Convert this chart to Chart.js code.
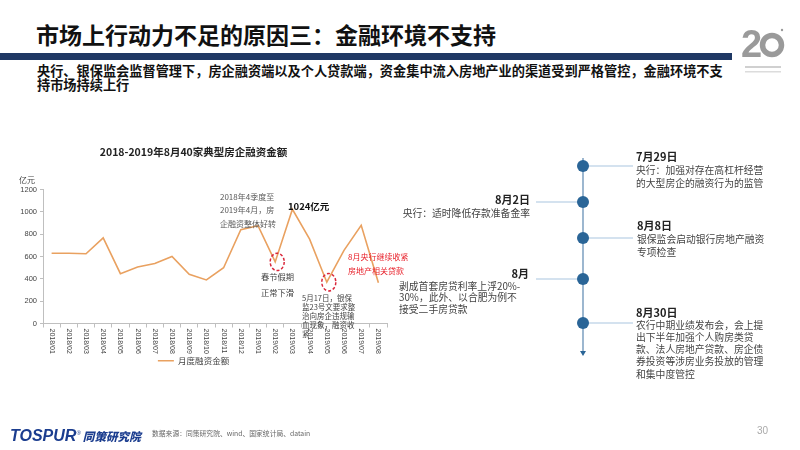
<!DOCTYPE html>
<html lang="zh">
<head>
<meta charset="UTF-8">
<title>市场上行动力不足的原因三：金融环境不支持</title>
<script src="https://cdn.jsdelivr.net/npm/chart.js@4.4.0/dist/chart.umd.min.js"></script>
<style>
  body { margin: 0; background: #fff; font-family: "Noto Sans CJK SC", "Liberation Sans", sans-serif; }
  .slide { position: relative; width: 800px; height: 450px; overflow: hidden; background: #fff; }
  .abs { position: absolute; white-space: nowrap; }
  .title { left: 36px; top: 19px; font-size: 23px; font-weight: bold; color: #111; line-height: 30px; }
  .rule { left: 0; top: 53px; width: 732px; height: 7px; background: #1f3864; }
  .sub { left: 37px; top: 64px; font-size: 13.2px; font-weight: bold; color: #111; line-height: 14px; }
  .ev { font-size: 9.8px; color: #444; line-height: 13px; }
  .ev b { font-size: 11px; color: #222; }
  .chartbox { left: 0; top: 140px; width: 430px; height: 237px; }
  .brand { left: 10px; top: 423px; font-family: "Liberation Sans", sans-serif; font-size: 16px; font-weight: 900; font-style: italic; color: #1b3d8f; line-height: 20px; }
  .brand sup { font-size: 6px; font-weight: normal; }
  .brand span { font-family: "Noto Sans CJK SC"; font-size: 11.6px; margin-left: 2px; }
  .src { left: 152px; top: 428px; font-size: 6.8px; color: #666; line-height: 10px; }
  .page { left: 757px; top: 424px; font-size: 10px; color: #aaa; line-height: 14px; font-family: "Liberation Sans", sans-serif; }
</style>
</head>
<body>
<div class="slide">
  <div class="abs title">市场上行动力不足的原因三：金融环境不支持</div>
  <div class="abs rule"></div>
  <div class="abs sub">央行、银保监会监督管理下，房企融资端以及个人贷款端，资金集中流入房地产业的渠道受到严格管控，金融环境不支<br>持市场持续上行</div>

  <div class="abs chartbox"><canvas id="financeChart" width="430" height="237"></canvas></div>

  <!-- timeline on the right -->
  <svg class="abs" style="left:0;top:0" width="800" height="450">
    <g fill="#9a9a9a">
      <text x="741" y="57" font-family="Liberation Sans" font-weight="bold" font-size="38">2</text>
      <circle cx="772" cy="45" r="9.5" fill="none" stroke="#9a9a9a" stroke-width="5.5"/>
      <circle cx="782" cy="30" r="1.2"/>
      <rect x="745" y="66" width="36" height="2" fill="#d0d0d0"/>
      <rect x="745" y="71" width="36" height="1.5" fill="#dcdcdc"/>
    </g>
    <line x1="583" y1="158" x2="583" y2="352" stroke="#5b87b0" stroke-width="1.2"/>
    <polygon points="580,351 586,351 583,356" fill="#2a6597"/>
    <g stroke="#a9c6df" stroke-width="1.2">
      <line x1="633" y1="166" x2="583" y2="166"/>
      <line x1="536" y1="202" x2="583" y2="202"/>
      <line x1="633" y1="238" x2="583" y2="238"/>
      <line x1="536" y1="279" x2="583" y2="279"/>
      <line x1="633" y1="323" x2="583" y2="323"/>
    </g>
    <g fill="#2a6597">
      <circle cx="583" cy="166" r="6"/>
      <circle cx="583" cy="202" r="6"/>
      <circle cx="583" cy="238" r="6"/>
      <circle cx="583" cy="279" r="6"/>
      <circle cx="583" cy="323" r="6"/>
    </g>
  </svg>

  <div class="abs ev" style="left:636px;top:149.5px"><b>7月29日</b><br>央行：加强对存在高杠杆经营<br>的大型房企的融资行为的监管</div>
  <div class="abs ev" style="right:270px;top:192.5px;text-align:right"><b>8月2日</b><br>央行：适时降低存款准备金率</div>
  <div class="abs ev" style="left:637px;top:218.5px"><b>8月8日</b><br>银保监会启动银行房地产融资<br>专项检查</div>
  <div class="abs ev" style="right:271px;top:266.5px;text-align:right"><b>8月</b></div>
  <div class="abs ev" style="left:399px;top:280.5px;line-height:11.5px">剥成首套房贷利率上浮20%-<br>30%，此外、以合肥为例不<br>接受二手房贷款</div>
  <div class="abs ev" style="left:636px;top:305.5px;line-height:12.2px"><b>8月30日</b><br>农行中期业绩发布会，会上提<br>出下半年加强个人购房类贷<br>款、法人房地产贷款、房企债<br>券投资等涉房业务投放的管理<br>和集中度管控</div>

  <div class="abs brand">TOSPUR<sup>®</sup><span>同策研究院</span></div>
  <div class="abs src">数据来源：同策研究院、wind、国家统计局、datain</div>
  <div class="abs page">30</div>
</div>

<script>
    // monthly financing of 40 typical developers, 100 million yuan
    const months = ['2018/01', '2018/02', '2018/03', '2018/04', '2018/05', '2018/06', '2018/07',
        '2018/08', '2018/09', '2018/10', '2018/11', '2018/12', '2019/01', '2019/02', '2019/03',
        '2019/04', '2019/05', '2019/06', '2019/07', '2019/08'];
    const amounts = [630, 630, 625, 768, 447, 507, 537, 600, 441, 390, 500, 840, 876, 552, 1024,
        756, 370, 655, 880, 366];
    const yTicks = [0, 200, 400, 600, 800, 1000, 1200];
    const seriesName = '月度融资金额';
    const chartTitle = '2018-2019年8月40家典型房企融资金额';
    const unitLabel = '亿元';

    // callouts: at = [category index, value] of first line's left edge
    const notes = [
        { at: [9.79, 1137], lines: ['2018年4季度至', '2019年4月，房', '企融资整体好转'], lh: 13.5, font: '8px "Noto Sans CJK SC"', color: '#595959' },
        { at: [13.74, 1050], lines: ['1024亿元'], lh: 12, font: 'bold 9.5px "Noto Sans CJK SC"', color: '#111' },
        { at: [12.17, 415], lines: ['春节假期', '正常下滑'], lh: 16, font: '8.3px "Noto Sans CJK SC"', color: '#444' },
        { at: [14.56, 226], lines: ['5月17日，银保', '监23号文要求整', '治向房企违规输', '血现象，融资收', '紧'], lh: 9, font: '7.5px "Noto Sans CJK SC"', color: '#444' },
        { at: [17.23, 596], lines: ['8月央行继续收紧', '房地产相关贷款'], lh: 14, font: '8px "Noto Sans CJK SC"', color: '#e8202a' }
    ];
    // dashed red circles around the dips (category index)
    const dips = [13, 16];

    const lineColor = '#e9a160';
    const axisColor = '#bfbfbf';

    const notesPlugin = {
        id: 'slideNotes',
        afterDraw(chart) {
            const { ctx, chartArea, scales: { x, y } } = chart;
            ctx.save();
            ctx.fillStyle = '#444';
            ctx.textBaseline = 'middle';

            ctx.font = '8px "Noto Sans CJK SC"';
            ctx.textAlign = 'right';
            ctx.fillText(unitLabel, chartArea.left - 8, y.top - 10);

            // month labels, turned clockwise
            ctx.font = '7px "Liberation Sans"';
            ctx.textAlign = 'left';
            months.forEach((m, i) => {
                ctx.save();
                ctx.translate(x.getPixelForValue(i), chartArea.bottom + 5);
                ctx.rotate(Math.PI / 2);
                ctx.fillText(m, 0, 0);
                ctx.restore();
            });

            ctx.strokeStyle = '#d9263a';
            ctx.lineWidth = 1.5;
            ctx.setLineDash([3, 2]);
            dips.forEach(i => {
                const px = x.getPixelForValue(i) + 2;
                const py = y.getPixelForValue(amounts[i]);
                ctx.beginPath();
                ctx.ellipse(px, py, 7, 8.7, 0, 0, Math.PI * 2);
                ctx.stroke();
            });
            ctx.setLineDash([]);

            notes.forEach(n => {
                const px = x.getPixelForValue(n.at[0]);
                const py = y.getPixelForValue(n.at[1]);
                ctx.font = n.font;
                ctx.fillStyle = n.color;
                n.lines.forEach((t, k) => ctx.fillText(t, px, py + k * n.lh));
            });
            ctx.restore();
        }
    };

    const ctx = document.getElementById('financeChart').getContext('2d');
    new Chart(ctx, {
        type: 'line',
        data: {
            labels: months,
            datasets: [{
                label: seriesName,
                data: amounts,
                borderColor: lineColor,
                backgroundColor: lineColor,
                borderWidth: 1.6,
                pointRadius: 0,
                tension: 0
            }]
        },
        options: {
            responsive: false,
            animation: false,
            layout: { padding: { left: 0, right: 43, top: 0, bottom: 2 } },
            plugins: {
                title: {
                    display: true,
                    text: chartTitle,
                    color: '#222',
                    font: { size: 10.5, weight: 'bold', family: '"Noto Sans CJK SC"' },
                    padding: { top: 6, bottom: 31 }
                },
                legend: {
                    position: 'bottom',
                    labels: {
                        usePointStyle: true,
                        pointStyle: 'line',
                        pointStyleWidth: 16,
                        padding: 4,
                        color: '#444',
                        font: { size: 8.5, family: '"Noto Sans CJK SC"' }
                    }
                },
                tooltip: { enabled: false }
            },
            scales: {
                x: {
                    offset: true,
                    grid: { offset: true, drawOnChartArea: false, color: axisColor, tickLength: 4 },
                    border: { color: axisColor },
                    ticks: { display: false },
                    afterFit(s) { s.height = 29; }
                },
                y: {
                    min: 0,
                    max: 1200,
                    afterBuildTicks(s) { s.ticks = yTicks.map(v => ({ value: v })); },
                    grid: { drawOnChartArea: false, color: axisColor, tickLength: 3 },
                    border: { color: axisColor },
                    ticks: {
                        color: '#444',
                        padding: 3,
                        font: { size: 7.5, family: '"Liberation Sans"' },
                        callback: v => String(v)
                    },
                    afterFit(s) { s.width = 43; }
                }
            }
        },
        plugins: [notesPlugin]
    });
</script>
</body>
</html>
